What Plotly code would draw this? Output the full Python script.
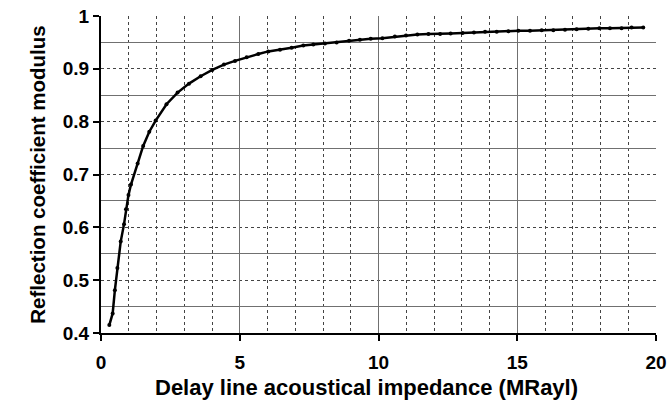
import plotly.graph_objects as go

impedance = [0.30, 0.42, 0.50, 0.59, 0.71, 0.83, 0.90, 0.99, 1.08,
             1.32, 1.52, 1.74, 1.97, 2.36, 2.76, 3.17, 3.59, 4.01,
             4.43, 4.83, 5.25, 5.67, 6.03, 6.45, 6.87, 7.29, 7.65, 8.07,
             8.49, 8.94, 9.33, 9.72, 10.14, 10.59, 10.99, 11.40, 11.80,
             12.22, 12.60, 13.03, 13.44, 13.84, 14.26, 14.68, 15.04, 15.46,
             15.88, 16.30, 16.72, 17.14, 17.56, 17.96, 18.34, 18.76, 19.12, 19.54]
modulus = [0.415, 0.437, 0.481, 0.523, 0.573, 0.606, 0.634, 0.661, 0.681,
           0.721, 0.754, 0.781, 0.802, 0.833, 0.855, 0.872, 0.886, 0.898,
           0.908, 0.915, 0.922, 0.928, 0.933, 0.936, 0.940, 0.944, 0.946, 0.948,
           0.950, 0.953, 0.955, 0.957, 0.958, 0.961, 0.963, 0.965, 0.966,
           0.966, 0.967, 0.968, 0.969, 0.970, 0.970, 0.971, 0.972, 0.972,
           0.973, 0.973, 0.974, 0.975, 0.976, 0.977, 0.977, 0.977, 0.978, 0.978]

x_ticks = [0, 5, 10, 15, 20]
x_dotted = list(range(1, 21))
x_solid = [5, 10, 15]
y_ticks = [0.4, 0.5, 0.6, 0.7, 0.8, 0.9, 1.0]
y_tick_text = ["0.4", "0.5", "0.6", "0.7", "0.8", "0.9", "1"]
y_solid = [0.45, 0.55, 0.65, 0.75, 0.85, 0.95]
x_title = "Delay line acoustical impedance (MRayl)"
y_title = "Reflection coefficient modulus"

fig = go.Figure()
# invisible trace to anchor the overlaid grid axis
fig.add_trace(go.Scatter(x=[x_ticks[0], x_ticks[-1]], y=[y_ticks[0], y_ticks[0]],
                         xaxis="x2", yaxis="y", mode="markers",
                         marker=dict(opacity=0), hoverinfo="skip", showlegend=False))
fig.add_trace(go.Scatter(x=impedance, y=modulus, mode="lines+markers",
                         line=dict(color="black", width=2.5),
                         marker=dict(color="black", size=4, symbol="circle"),
                         showlegend=False))

tick_font = dict(family="Liberation Sans", size=19, color="black", weight="bold")

fig.update_layout(
    width=667, height=401,
    margin=dict(l=101, r=11, t=16, b=68),
    paper_bgcolor="white", plot_bgcolor="white",
    xaxis=dict(range=[0, 20], tickvals=x_ticks, ticktext=[str(v) for v in x_ticks],
               showgrid=True, gridcolor="#444444", griddash="dot", gridwidth=1,
               minor=dict(tickvals=x_dotted, showgrid=True, gridcolor="#444444",
                          griddash="dot", gridwidth=1, ticks=""),
               showline=True, linecolor="black", linewidth=2,
               ticks="outside", ticklen=6, tickwidth=2, tickcolor="black",
               ticklabelstandoff=5,
               tickfont=tick_font, zeroline=False, automargin=False),
    xaxis2=dict(range=[0, 20], overlaying="x", tickvals=x_solid, showgrid=True,
                gridcolor="#707070", gridwidth=1.3, showticklabels=False, ticks="",
                showline=False, zeroline=False, automargin=False),
    yaxis=dict(range=[0.4, 1.0], tickvals=y_ticks, ticktext=y_tick_text,
               showgrid=True, gridcolor="#444444", griddash="dot", gridwidth=1,
               minor=dict(tickvals=y_solid, showgrid=True, gridcolor="#707070",
                          griddash="solid", gridwidth=1.3, ticks=""),
               showline=True, linecolor="black", linewidth=2,
               ticks="outside", ticklen=6, tickwidth=2, tickcolor="black",
               tickfont=tick_font, zeroline=False, automargin=False,
               title=dict(text=y_title,
                          font=dict(family="Liberation Sans", size=20.5, color="black",
                                    weight="bold"),
                          standoff=12)),
    annotations=[dict(text=x_title, xref="paper", yref="paper",
                      x=0.4775, y=-0.1735, xanchor="center", yanchor="middle",
                      showarrow=False,
                      font=dict(family="Liberation Sans", size=22, color="black",
                                weight="bold"))],
)

fig.write_html("out.html", config={"displayModeBar": False},
               post_script="document.body.style.margin='0';document.body.style.overflow='hidden';")
